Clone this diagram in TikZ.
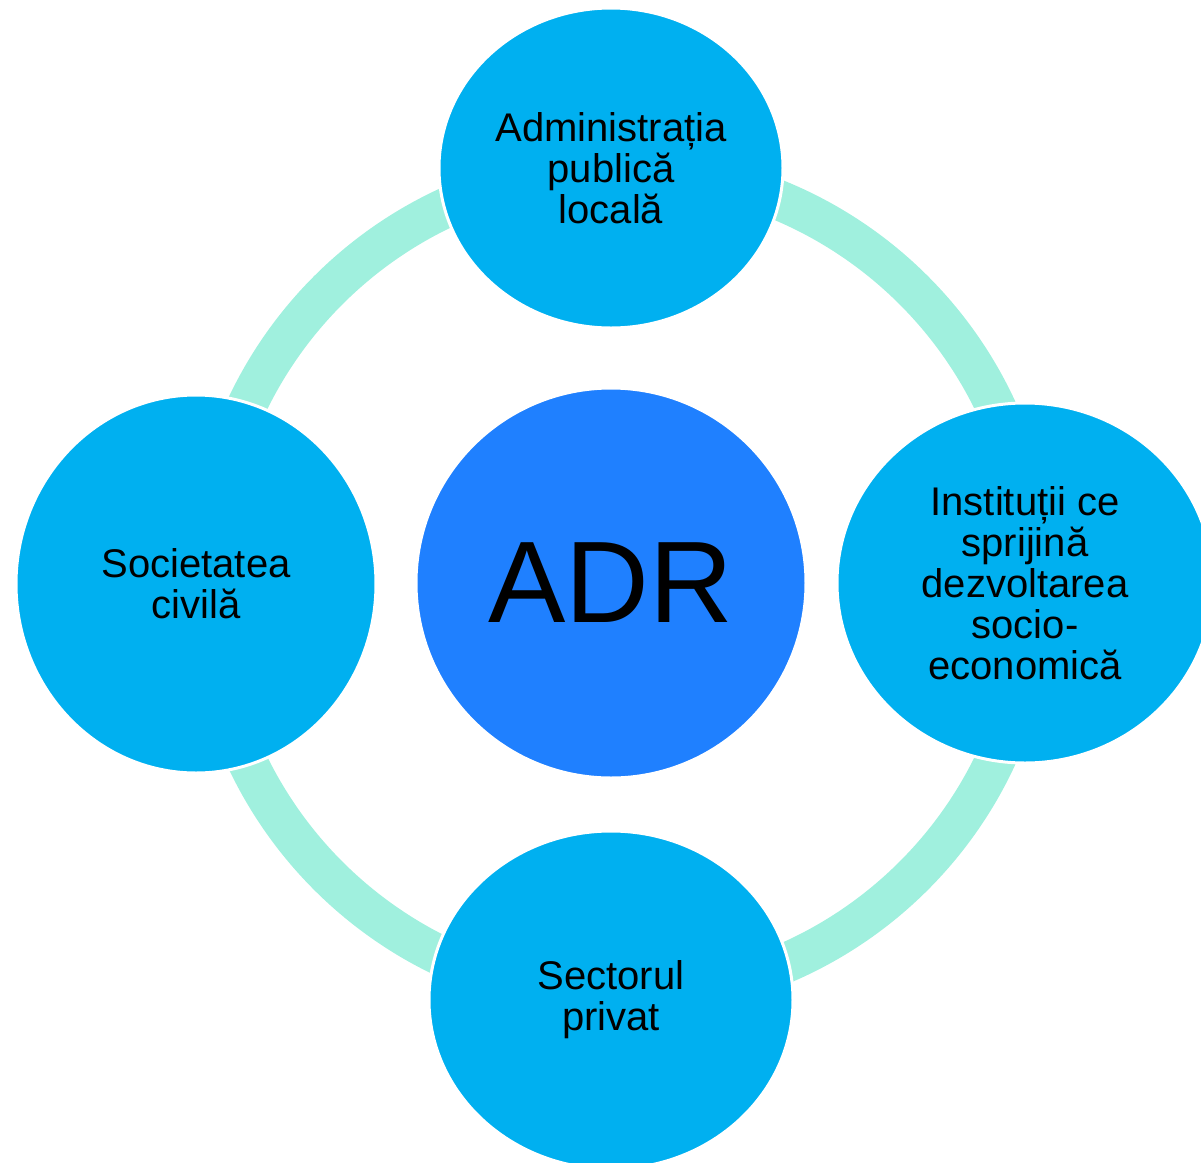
\documentclass[tikz,border=0pt]{standalone}
\usepackage{fontspec}
\setmainfont{Liberation Sans}
\usetikzlibrary{shapes.geometric,backgrounds}
\definecolor{nodeblue}{RGB}{0,176,240}
\definecolor{centerblue}{RGB}{31,128,255}
\definecolor{ringcol}{RGB}{160,240,222}
\tikzset{
  outer/.style={ellipse, fill=nodeblue, draw=white, line width=1.5pt, inner sep=0pt,
    align=center, font=\fontsize{20}{20.5}\selectfont, text=black},
  center/.style={circle, fill=centerblue, draw=white, line width=1.5pt, inner sep=0pt,
    minimum size=195pt, font=\fontsize{58}{60}\selectfont, text=black},
  ringline/.style={draw=ringcol, line width=20pt}
}
\begin{document}
\begin{tikzpicture}[x=0.5pt,y=-0.5pt]
\useasboundingbox (0,0) rectangle (1201,1163);
\clip (0,0) rectangle (1201,1163);
\node[center] (adr) at (611,583) {ADR};
\node[outer, minimum width=172pt, minimum height=160pt] (apl) at (611,168) {Administrația\\publică\\locală};
\node[outer, minimum width=188pt, minimum height=180pt] (inst) at (1025,583) {Instituții ce\\sprijină\\dezvoltarea\\socio-\\economică};
\node[outer, minimum width=182pt, minimum height=169pt] (priv) at (611,1000) {Sectorul\\privat};
\node[outer, minimum width=180pt, minimum height=189pt] (soc) at (196,584) {Societatea\\civilă};
\begin{scope}[on background layer]
\draw[ringline] ([xshift=5pt]adr.center) circle (207pt);
\end{scope}
\end{tikzpicture}
\end{document}
